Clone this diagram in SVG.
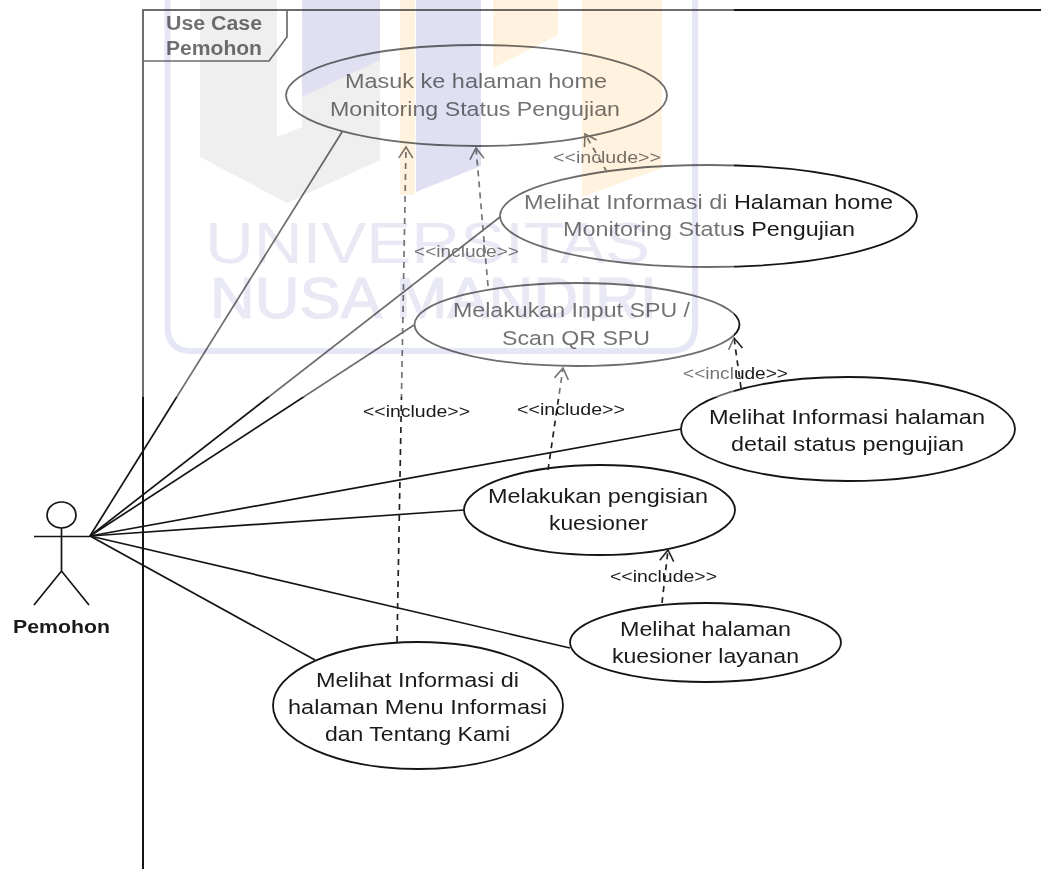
<svg xmlns="http://www.w3.org/2000/svg" width="1041" height="869" viewBox="0 0 1041 869">
<style>
.l{fill:none;stroke:#141414;stroke-width:1.7}
.n ellipse{fill:#fff;stroke:#141414;stroke-width:1.8}
.d{fill:none;stroke:#222;stroke-width:1.7;stroke-dasharray:6 5;marker-end:url(#open)}
text{font-family:"Liberation Sans",Arial,sans-serif;fill:#1a1a1a}
.t{font-size:20.500px}
.i{font-size:16px}
.wm *{mix-blend-mode:multiply}
.bl{fill:#e0e0f2}.ye{fill:#fff3df}.gr{fill:#efefef}
.wt{font-size:58px;fill:#e9e9f6}
</style>
<defs>
<marker id="open" markerUnits="userSpaceOnUse" markerWidth="20" markerHeight="20" refX="13" refY="8" orient="auto">
<path d="M2 1L13 8L2 15" fill="none" stroke="#222" stroke-width="1.6"/>
</marker>
</defs>
<rect width="1041" height="869" fill="#fff"/>
<g id="frame">
<path d="M143 869V10H1041" fill="none" stroke="#141414" stroke-width="2"/>
<path class="l" d="M143 61H269L287 37V10"/>
<text x="166" y="30" font-size="20" font-weight="bold" textLength="96" lengthAdjust="spacingAndGlyphs">Use Case</text>
<text x="166" y="55" font-size="20" font-weight="bold" textLength="96" lengthAdjust="spacingAndGlyphs">Pemohon</text>
</g>
<g id="connectors">
<path class="l" d="M90 536L342 132"/>
<path class="l" d="M90 536L500 217"/>
<path class="l" d="M90 536L414 325"/>
<path class="l" d="M90 536L681 429"/>
<path class="l" d="M90 536L464 510"/>
<path class="l" d="M90 536L570 648"/>
<path class="l" d="M90 536L315 660"/>
</g>
<g id="uc1" class="n"><ellipse cx="476.500" cy="95.500" rx="190.500" ry="50.500"/>
<text class="t" x="345" y="88" textLength="262" lengthAdjust="spacingAndGlyphs">Masuk ke halaman home</text>
<text class="t" x="330" y="116" textLength="290" lengthAdjust="spacingAndGlyphs">Monitoring Status Pengujian</text></g>
<g id="uc2" class="n"><ellipse cx="708.500" cy="216" rx="208.500" ry="51"/>
<text class="t" x="524" y="209" textLength="369" lengthAdjust="spacingAndGlyphs">Melihat Informasi di Halaman home</text>
<text class="t" x="563" y="236" textLength="292" lengthAdjust="spacingAndGlyphs">Monitoring Status Pengujian</text></g>
<g id="uc3" class="n"><ellipse cx="577" cy="324.500" rx="162.500" ry="41.500"/>
<text class="t" x="453" y="317" textLength="237" lengthAdjust="spacingAndGlyphs">Melakukan Input SPU /</text>
<text class="t" x="502" y="345" textLength="148" lengthAdjust="spacingAndGlyphs">Scan QR SPU</text></g>
<g id="uc4" class="n"><ellipse cx="848" cy="429" rx="167" ry="52"/>
<text class="t" x="709" y="424" textLength="276" lengthAdjust="spacingAndGlyphs">Melihat Informasi halaman</text>
<text class="t" x="731" y="451" textLength="233" lengthAdjust="spacingAndGlyphs">detail status pengujian</text></g>
<g id="uc5" class="n"><ellipse cx="599.500" cy="510" rx="135.500" ry="45"/>
<text class="t" x="488" y="503" textLength="220" lengthAdjust="spacingAndGlyphs">Melakukan pengisian</text>
<text class="t" x="549" y="530" textLength="99" lengthAdjust="spacingAndGlyphs">kuesioner</text></g>
<g id="uc6" class="n"><ellipse cx="705.500" cy="642.500" rx="135.500" ry="39.500"/>
<text class="t" x="620" y="636" textLength="171" lengthAdjust="spacingAndGlyphs">Melihat halaman</text>
<text class="t" x="612" y="663" textLength="187" lengthAdjust="spacingAndGlyphs">kuesioner layanan</text></g>
<g id="uc7" class="n"><ellipse cx="418" cy="705.500" rx="145" ry="63.500"/>
<text class="t" x="316" y="687" textLength="203" lengthAdjust="spacingAndGlyphs">Melihat Informasi di</text>
<text class="t" x="288" y="714" textLength="259" lengthAdjust="spacingAndGlyphs">halaman Menu Informasi</text>
<text class="t" x="325" y="741" textLength="185" lengthAdjust="spacingAndGlyphs">dan Tentang Kami</text></g>
<g id="includes">
<path class="d" d="M397 642L406 147"/>
<path class="d" d="M488 286L476 148"/>
<path class="d" d="M607 172L585 134"/>
<path class="d" d="M741 388L734 338"/>
<path class="d" d="M548 470L563 368"/>
<path class="d" d="M662 603L668 550"/>
<text class="i" x="553" y="163" textLength="108" lengthAdjust="spacingAndGlyphs">&lt;&lt;include&gt;&gt;</text>
<text class="i" x="414" y="257" textLength="105" lengthAdjust="spacingAndGlyphs">&lt;&lt;include&gt;&gt;</text>
<text class="i" x="363" y="417" textLength="107" lengthAdjust="spacingAndGlyphs">&lt;&lt;include&gt;&gt;</text>
<text class="i" x="517" y="415" textLength="108" lengthAdjust="spacingAndGlyphs">&lt;&lt;include&gt;&gt;</text>
<text class="i" x="683" y="379" textLength="105" lengthAdjust="spacingAndGlyphs">&lt;&lt;include&gt;&gt;</text>
<text class="i" x="610" y="582" textLength="107" lengthAdjust="spacingAndGlyphs">&lt;&lt;include&gt;&gt;</text>
</g>
<g id="actor">
<ellipse cx="61.500" cy="515" rx="14.500" ry="13" fill="#fff" stroke="#141414" stroke-width="1.7"/>
<path class="l" d="M34 536.500H90M61.500 528V571M34 605L61.500 571L89 605"/>
<text x="13" y="633" font-size="19" font-weight="bold" textLength="97" lengthAdjust="spacingAndGlyphs">Pemohon</text>
</g>
<g id="watermark" class="wm">
<rect x="130" y="0" width="604" height="397" fill="#fff" opacity=".38" style="mix-blend-mode:normal"/>
<path class="gr" d="M200 0V157L287 203L380 160V60L302 97V127L277 137V0Z"/>
<path class="bl" d="M302 0H380V60L302 97Z"/>
<path class="ye" d="M400 0H415V195H400Z"/>
<path class="bl" d="M416 0H481V166L416 192Z"/>
<path class="ye" d="M493 0H558V35L493 68Z"/>
<path class="ye" d="M582 0H662V168L582 197Z"/>
<path fill="none" stroke="#e6e7f6" stroke-width="6" d="M167.500 0V326Q167.500 351 192 351H670Q695 351 695 326V0"/>
<text class="wt" x="205" y="263" textLength="445" lengthAdjust="spacingAndGlyphs">UNIVERSITAS</text>
<text class="wt" x="210" y="318" stroke="#e9e9f6" stroke-width="1.2" textLength="447" lengthAdjust="spacingAndGlyphs">NUSA MANDIRI</text>
</g>
</svg>
